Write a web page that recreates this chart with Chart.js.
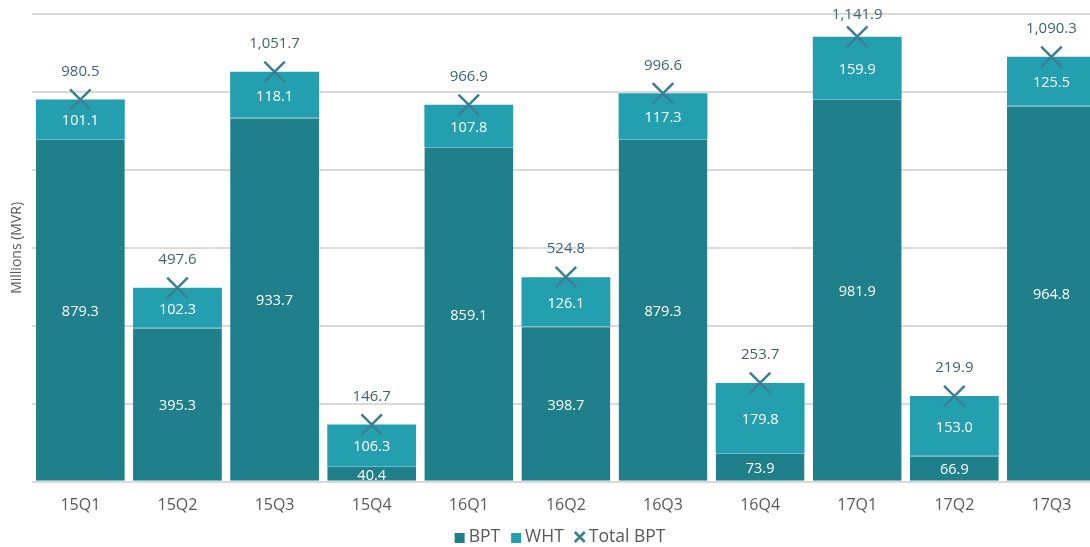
<!DOCTYPE html>
<html>
<head>
<meta charset="utf-8">
<script src="https://cdn.jsdelivr.net/npm/chart.js@4"></script>
<style>
  html, body { margin: 0; padding: 0; background: #fff; overflow: hidden; }
  #wrap { width: 1117px; height: 550px; margin-top: -3px; }
</style>
</head>
<body>
<div id="wrap"><canvas id="taxChart"></canvas></div>
<script>
const quarters = ["15Q1", "15Q2", "15Q3", "15Q4", "16Q1", "16Q2", "16Q3", "16Q4", "17Q1", "17Q2", "17Q3"];
const bpt = [879.3, 395.3, 933.7, 40.4, 859.1, 398.7, 879.3, 73.9, 981.9, 66.9, 964.8];
const wht = [101.1, 102.3, 118.1, 106.3, 107.8, 126.1, 117.3, 179.8, 159.9, 153.0, 125.5];
const totalBpt = [980.5, 497.6, 1051.7, 146.7, 966.9, 524.8, 996.6, 253.7, 1141.9, 219.9, 1090.3];

const fontFamily = "'Open Sans', 'Noto Sans', sans-serif";
const bptColor = "#1f7f8b";
const whtColor = "#239fb0";
const totalColor = "#3d7f92";

function fmt(v) {
  return v.toLocaleString("en-US", { minimumFractionDigits: 1, maximumFractionDigits: 1 });
}

// value labels inside the bars and above the total markers
const valueLabels = {
  id: "valueLabels",
  afterDatasetsDraw(chart) {
    const ctx = chart.ctx;
    ctx.save();
    ctx.textAlign = "center";
    ctx.textBaseline = "middle";
    chart.data.datasets.forEach((ds, i) => {
      const meta = chart.getDatasetMeta(i);
      meta.data.forEach((el, j) => {
        const v = ds.data[j];
        if (ds.type === "line") {
          ctx.font = "15px " + fontFamily;
          ctx.fillStyle = "#3b6578";
          // keep the label on the canvas near the top
          ctx.fillText(fmt(v), el.x, Math.max(18, el.y - 28));
        } else {
          ctx.font = "14.5px " + fontFamily;
          ctx.fillStyle = "#ffffff";
          ctx.fillText(fmt(v), el.x, (el.y + el.base) / 2 + 2);
        }
      });
    });
    ctx.restore();
  }
};

// legend drawn by hand so the spacing matches the original
const customLegend = {
  id: "customLegend",
  afterDraw(chart) {
    const ctx = chart.ctx;
    const items = chart.data.datasets.map(ds => ({
      text: ds.label,
      color: ds.type === "line" ? ds.pointBorderColor : ds.backgroundColor,
      cross: ds.type === "line"
    }));
    ctx.save();
    ctx.font = "17.5px " + fontFamily;
    ctx.textBaseline = "middle";
    ctx.textAlign = "left";
    const box = 10, gapText = 4, gapItem = 11;
    const widths = items.map(it => box + gapText + ctx.measureText(it.text).width);
    const total = widths.reduce((a, b) => a + b, 0) + gapItem * (items.length - 1);
    let x = 560 - total / 2;
    const y = 540;
    items.forEach((it, k) => {
      if (it.cross) {
        ctx.strokeStyle = it.color;
        ctx.lineWidth = 2.5;
        ctx.beginPath();
        ctx.moveTo(x, y - 5); ctx.lineTo(x + box, y + 5);
        ctx.moveTo(x + box, y - 5); ctx.lineTo(x, y + 5);
        ctx.stroke();
      } else {
        ctx.fillStyle = it.color;
        ctx.fillRect(x, y - 4, box, box);
      }
      ctx.fillStyle = "#595959";
      ctx.fillText(it.text, x + box + gapText, y);
      x += widths[k] + gapItem;
    });
    ctx.restore();
  }
};

new Chart(document.getElementById("taxChart"), {
  data: {
    labels: quarters,
    datasets: [
      {
        type: "bar",
        label: "BPT",
        data: bpt,
        backgroundColor: bptColor,
        borderColor: "#6cbcc7",
        borderWidth: { top: 1, left: 0, right: 0, bottom: 0 },
        borderSkipped: false,
        order: 2
      },
      {
        type: "bar",
        label: "WHT",
        data: wht,
        backgroundColor: whtColor,
        borderWidth: 0,
        order: 2
      },
      {
        type: "line",
        label: "Total BPT",
        data: totalBpt,
        showLine: false,
        pointStyle: "crossRot",
        pointRadius: 14.5,
        pointBorderWidth: 2.5,
        pointBorderColor: totalColor,
        pointBackgroundColor: totalColor,
        borderColor: totalColor,
        backgroundColor: totalColor,
        order: 0
      }
    ]
  },
  options: {
    responsive: true,
    maintainAspectRatio: false,
    animation: false,
    layout: { padding: { top: 0, left: 7, right: 0, bottom: 18 } },
    datasets: {
      bar: { categoryPercentage: 1, barPercentage: 0.915 }
    },
    plugins: {
      legend: { display: false },
      tooltip: { enabled: false }
    },
    scales: {
      x: {
        stacked: true,
        grid: { display: false, drawTicks: false },
        border: { display: false },
        ticks: {
          color: "#595959",
          padding: 14,
          font: { family: fontFamily, size: 16 }
        }
      },
      y: {
        stacked: true,
        min: 0,
        max: 1200,
        ticks: { display: false, stepSize: 200 },
        grid: { color: "#d9d9d9", lineWidth: 2, drawTicks: false },
        border: { display: false },
        title: {
          display: true,
          text: "Millions (MVR)",
          color: "#595959",
          font: { family: fontFamily, size: 14 },
          padding: { top: 2, bottom: 6 }
        }
      }
    }
  },
  plugins: [valueLabels, customLegend]
});
</script>
</body>
</html>
